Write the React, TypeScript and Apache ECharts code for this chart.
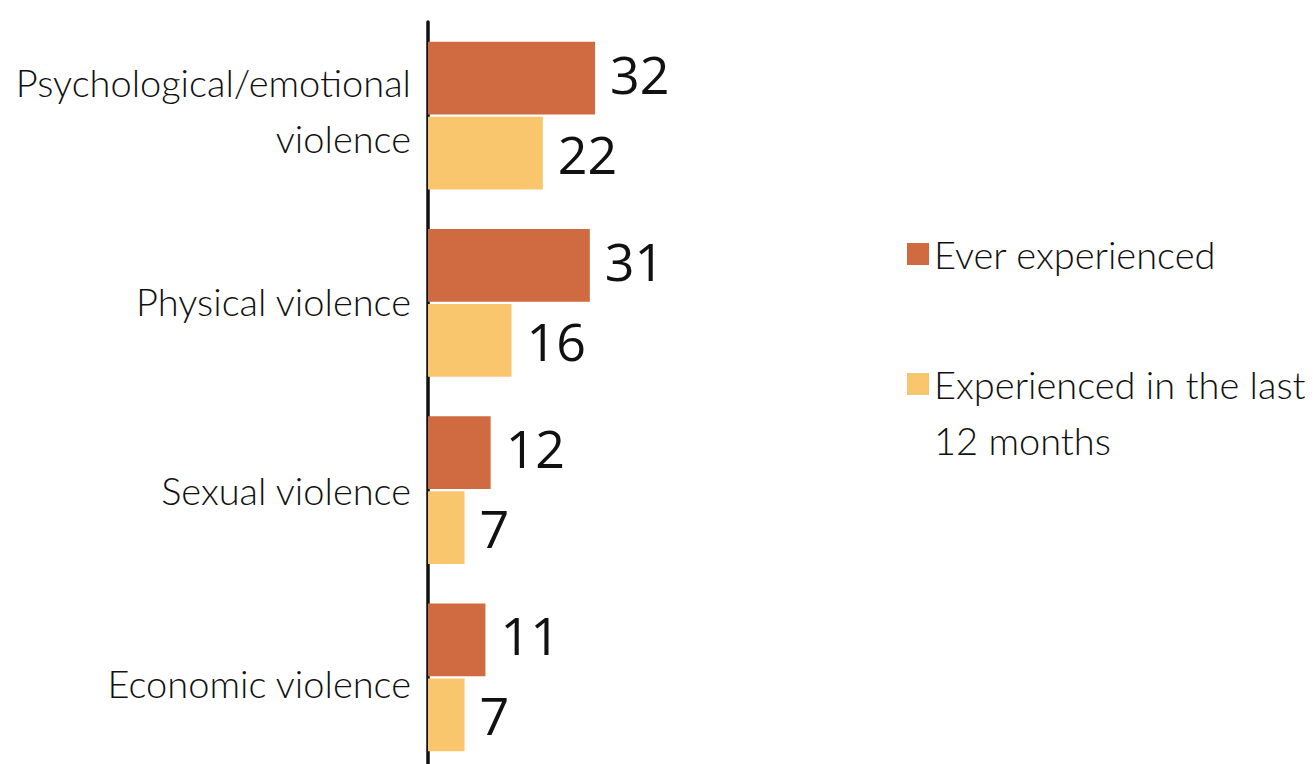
import React, { useEffect, useRef } from "react";
import * as echarts from "echarts";

const categories = [
  "Psychological/emotional\nviolence",
  "Physical violence",
  "Sexual violence",
  "Economic violence",
];
const everExperienced = [32, 31, 12, 11];
const last12Months = [22, 16, 7, 7];
const seriesNames = ["Ever experienced", "Experienced in the last 12 months"];
const legendTexts = ["Ever experienced", " \nExperienced in the last\n12 months"];
// spacer height per category label (positive = below, negative = above)
const labelSpacer = [12, 4, 0, -12];

const labelFont = "Lato, 'Open Sans', sans-serif";
const numberFont = "'Open Sans', 'Noto Sans', sans-serif";

export default function App() {
  const ref = useRef<HTMLDivElement>(null);
  useEffect(() => {
    if (!ref.current) return;
    const chart = echarts.init(ref.current, null, { renderer: "svg" });
    const valueLabel = {
      show: true,
      position: "right",
      distance: 15,
      color: "#111",
      fontFamily: numberFont,
      fontSize: 52,
    };
    chart.setOption({
      animation: false,
      backgroundColor: "#ffffff",
      grid: { left: 428, right: 366, top: 22, bottom: 790 - 22 - 749, containLabel: false },
      legend: {
        orient: "vertical",
        left: 907,
        top: 226,
        padding: 0,
        itemWidth: 22,
        itemHeight: 22,
        itemGap: 18,
        icon: "rect",
        textStyle: {
          fontFamily: labelFont,
          fontSize: 38,
          fontWeight: 300,
          color: "#111",
          lineHeight: 56,
        },
        formatter: (name: string) => legendTexts[seriesNames.indexOf(name)],
        data: seriesNames,
      },
      xAxis: {
        type: "value",
        min: 0,
        max: 100,
        show: false,
      },
      yAxis: {
        type: "category",
        inverse: true,
        data: categories,
        axisLine: { show: true, lineStyle: { color: "#111", width: 3.5 } },
        axisTick: { show: false },
        axisLabel: {
          margin: 17,
          fontFamily: labelFont,
          fontSize: 38,
          fontWeight: 300,
          color: "#111",
          lineHeight: 56,
          align: "right",
          formatter: (value: string, index: number) => {
            const lines = value.split("\n").map((l) => `{a|${l}}`);
            const s = labelSpacer[index] || 0;
            if (s > 0) lines.push(`{s${s}| }`);
            if (s < 0) lines.unshift(`{s${-s}| }`);
            return lines.join("\n");
          },
          rich: {
            a: {
              fontFamily: labelFont,
              fontSize: 38,
              fontWeight: 300,
              color: "#111",
              lineHeight: 56,
            },
            s4: { fontSize: 1, lineHeight: 4 },
            s12: { fontSize: 1, lineHeight: 12 },
          },
        },
      },
      series: [
        {
          name: seriesNames[0],
          type: "bar",
          data: everExperienced,
          itemStyle: { color: "#D06A40" },
          barGap: "3%",
          barCategoryGap: "21%",
          label: { ...valueLabel, offset: [0, -5] },
        },
        {
          name: seriesNames[1],
          type: "bar",
          data: last12Months,
          itemStyle: { color: "#F9C66E" },
          label: valueLabel,
        },
      ],
    });
    return () => chart.dispose();
  }, []);
  return (
    <div
      ref={ref}
      style={{ position: "fixed", left: 0, top: 0, width: 1316, height: 790 }}
    />
  );
}
